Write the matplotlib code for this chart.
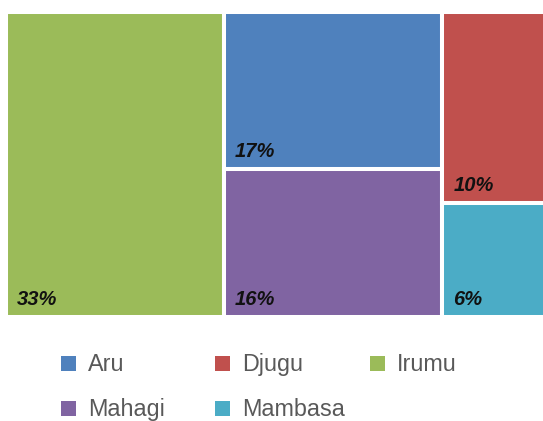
import matplotlib
matplotlib.use("Agg")
import matplotlib.pyplot as plt
from matplotlib.patches import Rectangle

# ---- data ----
categories = ["Aru", "Djugu", "Irumu", "Mahagi", "Mambasa"]
values = [17, 10, 33, 16, 6]
labels = ["17%", "10%", "33%", "16%", "6%"]
colors = ["#4F81BD", "#C0504D", "#9BBB59", "#8064A2", "#4BACC6"]

FW, FH = 543, 421
fig = plt.figure(figsize=(FW / 100, FH / 100), dpi=100)

# axes area in pixels (extends slightly past right edge, as in the reference)
ax_left, ax_top, ax_w, ax_h = 6, 12, 542, 305
ax = fig.add_axes([ax_left / FW, 1 - (ax_top + ax_h) / FH, ax_w / FW, ax_h / FH])
W, H = float(ax_w), float(ax_h)
ax.set_xlim(0, W)
ax.set_ylim(0, H)
ax.axis("off")


def worst(row, side):
    s = sum(row)
    return max(max(side * side * r / (s * s), s * s / (side * side * r)) for r in row)


def squarify(vals, x, y, w, h):
    """vals are areas (already scaled); returns rects (x, y, w, h) with y from top."""
    rects = []
    vals = list(vals)
    while vals:
        side = min(w, h)
        row = [vals.pop(0)]
        while vals and worst(row + [vals[0]], side) <= worst(row, side):
            row.append(vals.pop(0))
        s = sum(row)
        if w >= h:
            cw = s / h
            cy = y
            for r in row:
                rh = r / cw
                rects.append((x, cy, cw, rh))
                cy += rh
            x += cw
            w -= cw
        else:
            rh_ = s / w
            cx = x
            for r in row:
                rw = r / rh_
                rects.append((cx, y, rw, rh_))
                cx += rw
            y += rh_
            h -= rh_
    return rects


order = sorted(range(len(values)), key=lambda i: -values[i])
total = sum(values)
areas = [values[i] * W * H / total for i in order]
rects = squarify(areas, 0, 0, W, H)

for idx, (x, y, w, h) in zip(order, rects):
    y0 = H - y - h  # convert top-based to bottom-based
    ax.add_patch(Rectangle((x, y0), w, h, facecolor=colors[idx],
                           edgecolor="white", linewidth=2.9))
    ax.annotate(labels[idx], xy=(x, y0), xytext=(11, 12), textcoords="offset pixels",
                ha="left", va="baseline", fontsize=14.5, fontweight="bold",
                fontstyle="italic", family=["Liberation Sans", "DejaVu Sans"],
                color="#111111")

# ---- legend (manual, fixed-width items) ----
leg_pos = [(60.5, 371), (215, 371), (369.5, 371), (60.5, 416), (215, 416)]
msz = 15
for (px, base), name, col in zip(leg_pos, categories, colors):
    fig.add_artist(Rectangle((px / FW, 1 - base / FH), msz / FW, msz / FH,
                             transform=fig.transFigure, facecolor=col,
                             edgecolor="none"))
    fig.text((px + 27.5) / FW, 1 - base / FH, name, ha="left", va="baseline",
             fontsize=16.8, color="#595959", family=["Liberation Sans", "DejaVu Sans"])

fig.savefig("out.png", dpi=100)
